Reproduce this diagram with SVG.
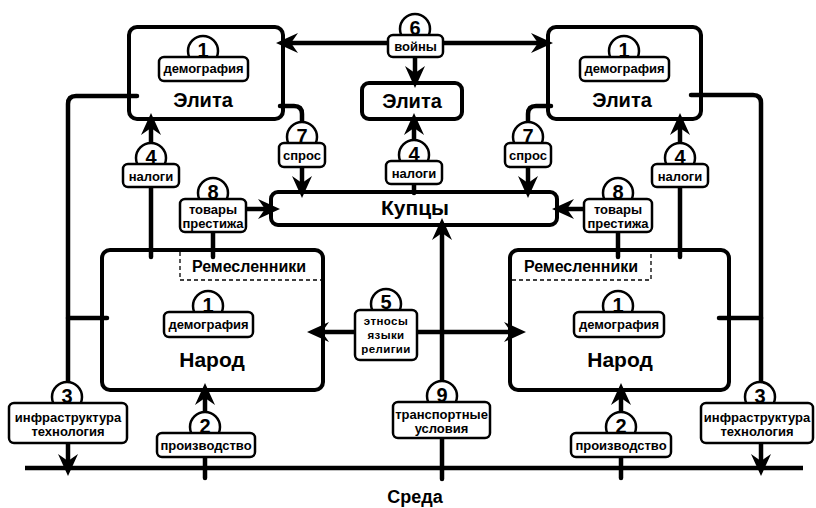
<svg xmlns="http://www.w3.org/2000/svg" width="816" height="508" viewBox="0 0 816 508">
<style>
.big{fill:#fff;stroke:#000;stroke-width:4}
.lbl{fill:#fff;stroke:#000;stroke-width:2.5}
.num{font-family:"Liberation Sans",Arial,sans-serif;font-weight:bold;font-size:20px;text-anchor:middle}
.sm{font-family:"Liberation Sans",Arial,sans-serif;font-weight:bold;font-size:13px;text-anchor:middle}
.sm2{font-family:"Liberation Sans",Arial,sans-serif;font-weight:bold;font-size:11.5px;letter-spacing:0.4px;text-anchor:middle}
.t{font-family:"Liberation Sans",Arial,sans-serif;font-weight:bold;text-anchor:middle}
.ln{fill:none;stroke:#000;stroke-width:4.5;stroke-linecap:round;stroke-linejoin:round}
.ar{fill:none;stroke:#000;stroke-width:4.5;marker-end:url(#ah)}
.ar2{fill:none;stroke:#000;stroke-width:4.5;marker-end:url(#ah);marker-start:url(#ah)}
.dash{fill:none;stroke:#000;stroke-width:1.3;stroke-dasharray:4 3}
</style>
<defs>
<marker id="ah" viewBox="0 0 22 20" refX="12" refY="10" markerWidth="22" markerHeight="20" markerUnits="userSpaceOnUse" orient="auto-start-reverse">
<path d="M0,0 L22,10 L0,20 L7,10 z" fill="#000"/>
</marker>
</defs>
<rect width="816" height="508" fill="#fff"/>

<g id="elite-left"><rect class="big" x="129" y="27" width="154" height="92" rx="8"/><text class="t" x="203" y="107" font-size="20">Элита</text></g>
<g id="elite-mid"><rect class="big" x="362" y="83" width="100" height="36" rx="7"/><text class="t" x="412" y="108" font-size="20">Элита</text></g>
<g id="elite-right"><rect class="big" x="548" y="27" width="153" height="92" rx="8"/><text class="t" x="622" y="107" font-size="20">Элита</text></g>
<g id="kuptsy"><rect class="big" x="271" y="192" width="286" height="33" rx="7"/><text class="t" x="415" y="215" font-size="21">Купцы</text></g>
<g id="narod-left"><rect class="big" x="102" y="250" width="221" height="140" rx="8"/><text class="t" x="212" y="367" font-size="21">Народ</text></g>
<g id="narod-right"><rect class="big" x="510" y="250" width="219" height="140" rx="8"/><text class="t" x="620" y="367" font-size="21">Народ</text></g>
<g id="remeslenniki-left"><path class="dash" d="M180,252 V280 H321"/><text class="t" x="249" y="272" font-size="16">Ремесленники</text></g>
<g id="remeslenniki-right"><path class="dash" d="M512,280 H651 V252"/><text class="t" x="581" y="272" font-size="16">Ремесленники</text></g>
<g id="sreda"><text class="t" x="415" y="503" font-size="18">Среда</text></g>

<g id="connectors">
<path class="ln" d="M137,96 H76 Q68,96 68,104 V397"/>
<path class="ln" d="M68,318 H107"/>
<path class="ln" d="M280,106 H294 Q302,106 302,114 V137"/>
<path class="ln" d="M551,106 H536 Q528,106 528,114 V137"/>
<path class="ln" d="M691,95 H753 Q761,95 761,103 V397"/>
<path class="ln" d="M719,318 H761"/>
<path class="ln" d="M151,187 V257"/>
<path class="ln" d="M213,232 V257"/>
<path class="ln" d="M618,232 V257"/>
<path class="ln" d="M680,187 V257"/>
<path class="ln" d="M414,184 V193"/>
<path fill="none" stroke="#000" stroke-width="4.5" d="M25,468 H803"/>
<path class="ln" d="M205,457 V478"/>
<path class="ln" d="M621,457 V478"/>
<path class="ln" d="M442,437 V479"/>
<path class="ar2" d="M286,43 H543"/>
<path class="ar" d="M415,57 V78"/>
<path class="ar" d="M302,167 V188"/>
<path class="ar" d="M528,167 V188"/>
<path class="ar" d="M151,158 V123"/>
<path class="ar" d="M414,155 V123"/>
<path class="ar" d="M680,158 V123"/>
<path class="ar" d="M246,209 H270"/>
<path class="ar" d="M584,209 H562"/>
<path class="ar" d="M442,437 V228"/>
<path class="ar2" d="M317,332 H516"/>
<path class="ar" d="M68,443 V466"/>
<path class="ar" d="M761,443 V466"/>
<path class="ar" d="M205,427 V393"/>
<path class="ar" d="M621,427 V393"/>
</g>

<g id="f1-elite-left"><circle class="lbl" cx="203" cy="51" r="15"/><rect class="lbl" x="159" y="57" width="89" height="24" rx="5"/><text class="num" x="203" y="57">1</text><text class="sm" x="203.5" y="73">демография</text></g>
<g id="f1-elite-right"><circle class="lbl" cx="624" cy="51" r="15"/><rect class="lbl" x="580" y="57" width="89" height="24" rx="5"/><text class="num" x="624" y="57">1</text><text class="sm" x="624.5" y="73">демография</text></g>
<g id="f1-narod-left"><circle class="lbl" cx="208" cy="306" r="15"/><rect class="lbl" x="164" y="312" width="89" height="25" rx="5"/><text class="num" x="208" y="312">1</text><text class="sm" x="208.5" y="329">демография</text></g>
<g id="f1-narod-right"><circle class="lbl" cx="618" cy="306" r="15"/><rect class="lbl" x="574" y="312" width="90" height="25" rx="5"/><text class="num" x="618" y="312">1</text><text class="sm" x="619" y="329">демография</text></g>
<g id="f6"><circle class="lbl" cx="415" cy="29" r="15"/><rect class="lbl" x="388" y="35" width="55" height="22" rx="5"/><text class="num" x="415" y="35">6</text><text class="sm" x="415.5" y="51">войны</text></g>
<g id="f7-left"><circle class="lbl" cx="302" cy="137" r="15"/><rect class="lbl" x="279" y="143" width="46" height="24" rx="5"/><text class="num" x="302" y="143">7</text><text class="sm" x="302" y="160">спрос</text></g>
<g id="f7-right"><circle class="lbl" cx="528" cy="137" r="15"/><rect class="lbl" x="505" y="143" width="46" height="24" rx="5"/><text class="num" x="528" y="143">7</text><text class="sm" x="528" y="160">спрос</text></g>
<g id="f4-left"><circle class="lbl" cx="151" cy="158" r="15"/><rect class="lbl" x="123" y="164" width="56" height="23" rx="5"/><text class="num" x="151" y="164">4</text><text class="sm" x="151" y="181">налоги</text></g>
<g id="f4-mid"><circle class="lbl" cx="414" cy="155" r="15"/><rect class="lbl" x="386" y="161" width="56" height="23" rx="5"/><text class="num" x="414" y="161">4</text><text class="sm" x="414" y="178">налоги</text></g>
<g id="f4-right"><circle class="lbl" cx="680" cy="158" r="15"/><rect class="lbl" x="652" y="164" width="56" height="23" rx="5"/><text class="num" x="680" y="164">4</text><text class="sm" x="680" y="181">налоги</text></g>
<g id="f8-left"><circle class="lbl" cx="213" cy="193" r="15"/><rect class="lbl" x="180" y="199" width="66" height="33" rx="5"/><text class="num" x="213" y="199">8</text><text class="sm" x="213" y="214">товары</text><text class="sm" x="213" y="228">престижа</text></g>
<g id="f8-right"><circle class="lbl" cx="618" cy="193" r="15"/><rect class="lbl" x="584" y="199" width="68" height="33" rx="5"/><text class="num" x="618" y="199">8</text><text class="sm" x="618" y="214">товары</text><text class="sm" x="618" y="228">престижа</text></g>
<g id="f5"><circle class="lbl" cx="386" cy="304" r="15"/><rect class="lbl" x="355" y="310" width="62" height="50" rx="5"/><text class="num" x="386" y="309">5</text><text class="sm2" x="386" y="325">этносы</text><text class="sm2" x="386" y="339">языки</text><text class="sm2" x="386" y="353">религии</text></g>
<g id="f9"><circle class="lbl" cx="442" cy="396" r="15"/><rect class="lbl" x="393" y="402" width="97" height="36" rx="5"/><text class="num" x="442" y="402">9</text><text class="sm" x="441.5" y="419">транспортные</text><text class="sm" x="441.5" y="433">условия</text></g>
<g id="f3-left"><circle class="lbl" cx="67" cy="397" r="15"/><rect class="lbl" x="9" y="403" width="118" height="40" rx="5"/><text class="num" x="67" y="403">3</text><text class="sm" x="68" y="422">инфраструктура</text><text class="sm" x="68" y="436">технология</text></g>
<g id="f3-right"><circle class="lbl" cx="760" cy="397" r="15"/><rect class="lbl" x="701" y="403" width="112" height="40" rx="5"/><text class="num" x="760" y="403">3</text><text class="sm" x="757" y="422">инфраструктура</text><text class="sm" x="757" y="436">технология</text></g>
<g id="f2-left"><circle class="lbl" cx="205" cy="427" r="15"/><rect class="lbl" x="157" y="433" width="98" height="24" rx="5"/><text class="num" x="205" y="433">2</text><text class="sm" x="206" y="450">производство</text></g>
<g id="f2-right"><circle class="lbl" cx="621" cy="427" r="15"/><rect class="lbl" x="571" y="433" width="100" height="24" rx="5"/><text class="num" x="621" y="433">2</text><text class="sm" x="621" y="450">производство</text></g>
</svg>
